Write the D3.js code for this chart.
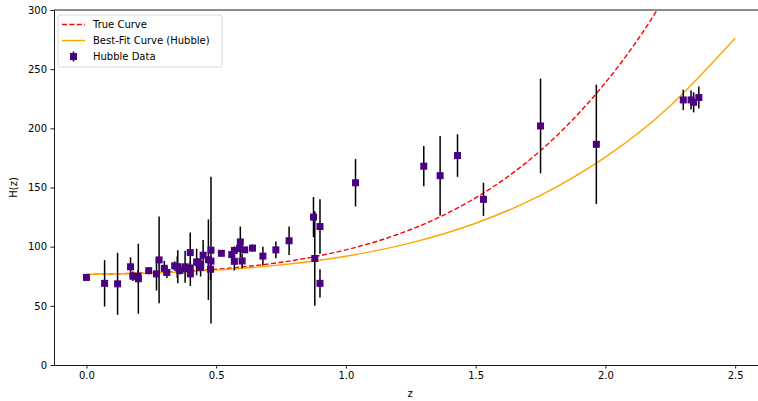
<!DOCTYPE html>
<html>
<head>
<meta charset="utf-8">
<script src="https://cdn.jsdelivr.net/npm/d3@7"></script>
<style>
    body { margin: 0; background: #fff; }
    svg { font-family: "DejaVu Sans", sans-serif; }
</style>
</head>
<body>
<svg id="chart" width="758" height="401"></svg>
<script>
// Hubble data: redshift, H(z), error
var dataZ = [0, 0.07, 0.12, 0.17, 0.179, 0.199, 0.2, 0.24, 0.27, 0.28, 0.3, 0.31, 0.34, 0.35, 0.352, 0.36,
    0.38, 0.3802, 0.4, 0.4, 0.4004, 0.4247, 0.43, 0.44, 0.44, 0.4497, 0.47, 0.4783, 0.48, 0.48,
    0.52, 0.56, 0.57, 0.57, 0.59, 0.593, 0.6, 0.61, 0.64, 0.68, 0.73, 0.781, 0.875, 0.88, 0.9, 0.9,
    1.037, 1.3, 1.363, 1.43, 1.53, 1.75, 1.965, 2.3, 2.33, 2.34, 2.36];
var dataH = [74.0, 69, 68.6, 83, 75, 75, 72.9, 79.7, 77, 88.8, 81.7, 78.2, 83.8, 82.7, 83, 79.9,
    81.5, 83, 82.0, 95, 77, 87.1, 86.5, 82.6, 84.8, 92.8, 89, 80.9, 87.8, 97,
    94.4, 93.3, 87.6, 96.8, 98.5, 104, 87.9, 97.3, 98.8, 92, 97.3, 105, 125, 90, 117, 69,
    154, 168, 160, 177, 140, 202, 186.5, 224, 224, 222, 226];
var dataErr = [1.4, 19.6, 26.2, 8, 4, 5, 29.6, 3, 14, 36.6, 6.2, 4.7, 3.7, 9.1, 14, 3.4,
    1.9, 13.5, 2, 17, 10.2, 11.2, 3.7, 7.8, 1.8, 12.9, 34, 9, 2, 62,
    2.6, 2.3, 7.8, 3.4, 3.2, 13, 6.1, 2.1, 3, 8, 7, 12, 17, 40, 23, 12,
    20, 17, 33.6, 18, 14, 40, 50.4, 8.6, 8, 8.5, 9.3];

// curves
var curveZ = [0, 0.25, 0.5, 0.75, 1.0, 1.25, 1.5, 1.75, 2.0, 2.25, 2.5];
var trueH = [76.5, 77.9, 80.9, 86.8, 97.3, 114.5, 141.3, 181.2, 238.6, 318.8, 427.7];
var fitH = [76.5, 77.7, 80.2, 84.6, 91.9, 103.2, 119.8, 143.4, 175.7, 219.1, 276.1];

var xTicks = [0, 0.5, 1.0, 1.5, 2.0, 2.5];
var yTicks = [0, 50, 100, 150, 200, 250, 300];

function drawChart() {
    var svg = d3.select('#chart');
    var left = 54, top = 10, bottom = 365, right = 767.6;

    var x = d3.scaleLinear().domain([-0.125, 2.625]).range([left, right]);
    var y = d3.scaleLinear().domain([0, 300]).range([bottom, top]);

    svg.append('defs').append('clipPath')
        .attr('id', 'plotClip')
        .append('rect')
        .attr('x', left).attr('y', top)
        .attr('width', right - left).attr('height', bottom - top);

    var plot = svg.append('g').attr('clip-path', 'url(#plotClip)');

    var line = d3.line()
        .x(function(d) { return x(d[0]); })
        .y(function(d) { return y(d[1]); })
        .curve(d3.curveNatural);

    plot.append('path')
        .datum(d3.zip(curveZ, trueH))
        .attr('d', line)
        .attr('fill', 'none')
        .attr('stroke', '#ff0000')
        .attr('stroke-width', 1.4)
        .attr('stroke-dasharray', '5,2.4');

    plot.append('path')
        .datum(d3.zip(curveZ, fitH))
        .attr('d', line)
        .attr('fill', 'none')
        .attr('stroke', '#ffa500')
        .attr('stroke-width', 1.4);

    var points = d3.zip(dataZ, dataH, dataErr);

    plot.selectAll('line.err')
        .data(points)
        .enter().append('line')
        .attr('class', 'err')
        .attr('x1', function(d) { return x(d[0]); })
        .attr('x2', function(d) { return x(d[0]); })
        .attr('y1', function(d) { return y(d[1] - d[2]); })
        .attr('y2', function(d) { return y(d[1] + d[2]); })
        .attr('stroke', '#000')
        .attr('stroke-width', 1.5);

    plot.selectAll('rect.pt')
        .data(points)
        .enter().append('rect')
        .attr('class', 'pt')
        .attr('x', function(d) { return x(d[0]) - 3.5; })
        .attr('y', function(d) { return y(d[1]) - 3.5; })
        .attr('width', 7)
        .attr('height', 7)
        .attr('fill', '#4b0082');

    // axes
    var xAxis = svg.append('g')
        .attr('transform', 'translate(0,' + bottom + ')')
        .call(d3.axisBottom(x).tickValues(xTicks).tickFormat(d3.format('.1f')).tickSizeInner(3.5).tickSizeOuter(0));
    var yAxis = svg.append('g')
        .attr('transform', 'translate(' + left + ',0)')
        .call(d3.axisLeft(y).tickValues(yTicks).tickSizeInner(3.5).tickSizeOuter(0));

    [xAxis, yAxis].forEach(function(ax) {
        ax.select('.domain').attr('stroke', '#000').attr('stroke-width', 0.9);
        ax.selectAll('.tick line').attr('stroke', '#000').attr('stroke-width', 0.9);
        ax.selectAll('.tick text')
            .attr('font-family', '"DejaVu Sans", sans-serif')
            .attr('font-size', 10)
            .attr('fill', '#000');
    });
    xAxis.selectAll('.tick text').attr('dy', '0.71em').attr('y', 7);
    yAxis.selectAll('.tick text').attr('x', -7);

    svg.append('line')
        .attr('x1', left).attr('x2', right)
        .attr('y1', top).attr('y2', top)
        .attr('stroke', '#000').attr('stroke-width', 0.9);

    svg.append('text')
        .attr('x', 410).attr('y', 397)
        .attr('text-anchor', 'middle')
        .attr('font-size', 10)
        .text('z');

    svg.append('text')
        .attr('transform', 'translate(17,' + ((top + bottom) / 2) + ') rotate(-90)')
        .attr('text-anchor', 'middle')
        .attr('font-size', 10)
        .text('H(z)');

    // legend
    var legend = svg.append('g').attr('transform', 'translate(58,15)');
    legend.append('rect')
        .attr('width', 164).attr('height', 52)
        .attr('rx', 2)
        .attr('fill', '#fff')
        .attr('fill-opacity', 0.8)
        .attr('stroke', '#d6d6d6')
        .attr('stroke-width', 0.9);

    legend.append('line')
        .attr('x1', 4).attr('x2', 27).attr('y1', 9.5).attr('y2', 9.5)
        .attr('stroke', '#ff0000').attr('stroke-width', 1.4)
        .attr('stroke-dasharray', '5,2.4');
    legend.append('line')
        .attr('x1', 4).attr('x2', 27).attr('y1', 25.5).attr('y2', 25.5)
        .attr('stroke', '#ffa500').attr('stroke-width', 1.4);
    legend.append('line')
        .attr('x1', 15.5).attr('x2', 15.5).attr('y1', 36.5).attr('y2', 46.5)
        .attr('stroke', '#000').attr('stroke-width', 1.5);
    legend.append('rect')
        .attr('x', 12).attr('y', 38).attr('width', 7).attr('height', 7)
        .attr('fill', '#4b0082');

    var labels = ['True Curve', 'Best-Fit Curve (Hubble)', 'Hubble Data'];
    legend.selectAll('text.lab')
        .data(labels)
        .enter().append('text')
        .attr('class', 'lab')
        .attr('x', 35)
        .attr('y', function(d, i) { return 13 + i * 16; })
        .attr('font-size', 10)
        .text(function(d) { return d; });
}

document.addEventListener('DOMContentLoaded', drawChart);
</script>
</body>
</html>
